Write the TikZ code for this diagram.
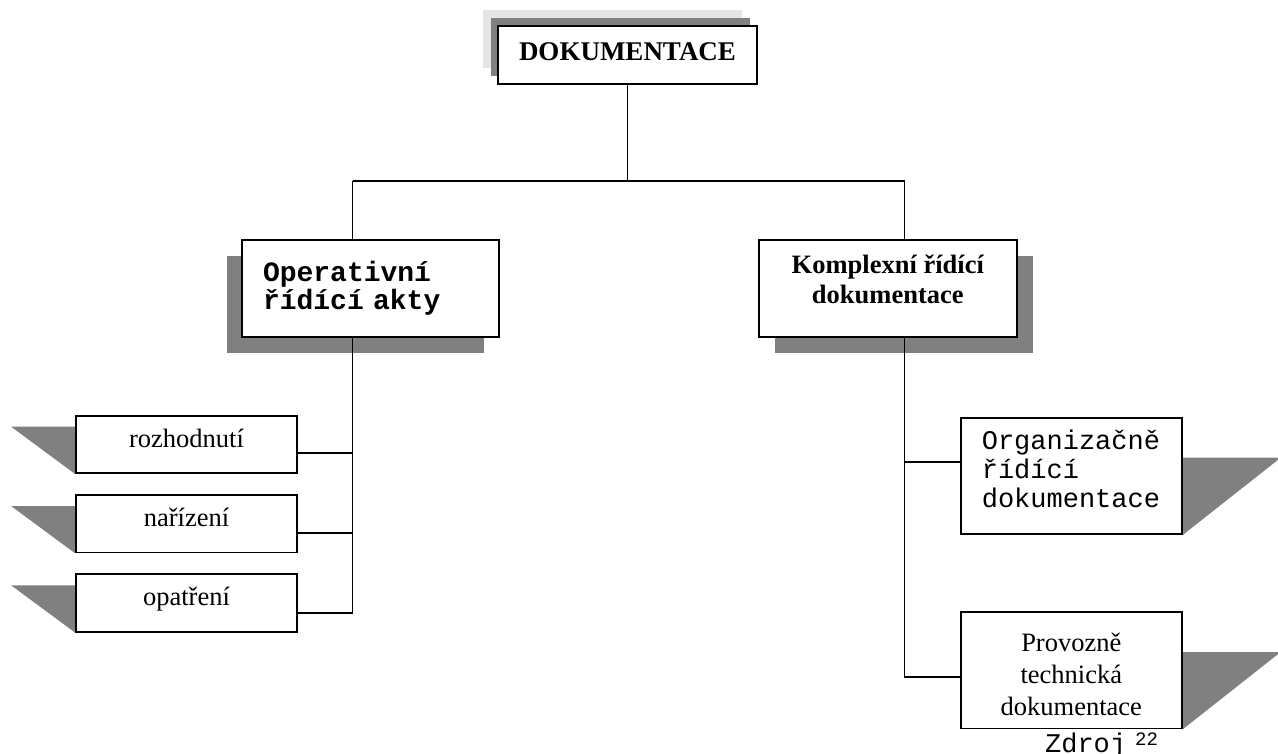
\documentclass[tikz,border=0pt]{standalone}
\usepackage{fontspec}
\setmainfont{Liberation Serif}
\setmonofont{Liberation Mono}
\usepackage{tikz}
\usetikzlibrary{positioning,shadows,backgrounds}

\begin{document}
\begin{tikzpicture}[
    x=1pt, y=1pt,
    box/.style = {draw, line width=1.8pt, fill=white, minimum width=221pt, align=center},
    head/.style = {box, minimum width=259pt, minimum height=58pt, text height=19pt, text depth=8pt,
        font=\bfseries\fontsize{27}{30}\selectfont},
    main/.style = {box, minimum height=97pt, general shadow={fill=gray, draw=none, #1}},
    leaf/.style = {box, minimum height=57.5pt, text height=18pt, text depth=12pt, font=\fontsize{26.5}{30}\selectfont},
    sheet/.style = {box, minimum height=116.5pt},
    flap/.style = {fill=gray},
    link/.style = {line width=1.8pt}
]
\useasboundingbox (0,0) rectangle (1278,-754);

\node (doc) [head, general shadow={fill=black!10, draw=none, shadow xshift=-15pt, shadow yshift=16pt},
    general shadow={fill=gray, draw=none, shadow xshift=-7pt, shadow yshift=8pt}] at (627.5,-55) {DOKUMENTACE};
\node (op) [main={shadow xshift=-15pt, shadow yshift=-16pt}, minimum width=257pt, below=154pt of doc, xshift=-257pt,
    text width=215pt, inner xsep=21pt, align=left, font=\ttfamily\bfseries\fontsize{28}{28.5}\selectfont] {Operativní\\řídící akty};
\node (ko) [main={shadow xshift=16pt, shadow yshift=-16pt}, minimum width=258pt, right=258pt of op,
    font=\bfseries\fontsize{26.5}{29.5}\selectfont] {Komplexní řídící\\dokumentace\\[-20pt]\strut};
\node (roz) [leaf, below=77pt of op, xshift=-184pt] {rozhodnutí};
\node (nar) [leaf, below=20pt of roz] {nařízení};
\node (opa) [leaf, below=20pt of nar] {opatření};
\node (org) [sheet, below=79pt of ko, xshift=183.5pt, text width=179pt, inner xsep=21pt, align=left,
    font=\ttfamily\fontsize{27}{29}\selectfont] {Organizačně\\řídící\\dokumentace\\[-24pt]\strut};
\node (pro) [sheet, below=76pt of org, font=\fontsize{26.5}{32}\selectfont] {\strut\\[-27pt]Provozně\\technická\\dokumentace};
\node (src) [anchor=base west, inner sep=0pt, font=\ttfamily\fontsize{27}{29}\selectfont]
    at ([xshift=85pt,yshift=-23pt]pro.south west) {Zdroj\hspace{9pt}\raisebox{7pt}{\fontsize{19}{19}\selectfont 22}};

% shadow flaps
\begin{scope}[on background layer]
\foreach \n in {roz,nar,opa}
    \fill[flap] ([yshift=-12pt]\n.north west) -- ++(-64,0) -- (\n.south west) -- cycle;
\foreach \n in {org,pro}
    \fill[flap] ([yshift=-41pt]\n.north east) -- ++(98,0) -- (\n.south east) -- cycle;
\end{scope}

\coordinate (lb) at (352.5,-181);
\coordinate (rb) at (904.5,-181);
\coordinate (rozc) at ([yshift=-9pt]roz.east);
\coordinate (narc) at ([yshift=-9pt]nar.east);
\coordinate (opac) at ([yshift=-10pt]opa.east);
\coordinate (orgc) at ([yshift=14pt]org.west);
\coordinate (proc) at ([yshift=-6.5pt]pro.west);

\draw[link] (doc.south) -- (doc.south |- lb);
\draw[link] (lb) -- (rb);
\draw[link] (lb) -- (lb |- op.north);
\draw[link] (rb) -- (rb |- ko.north);
\draw[link] (lb |- op.south) |- (opac);
\draw[link] (rozc) -- (rozc -| lb);
\draw[link] (narc) -- (narc -| lb);
\draw[link] (rb |- ko.south) |- (proc);
\draw[link] (orgc) -- (orgc -| rb);
\end{tikzpicture}
\end{document}
